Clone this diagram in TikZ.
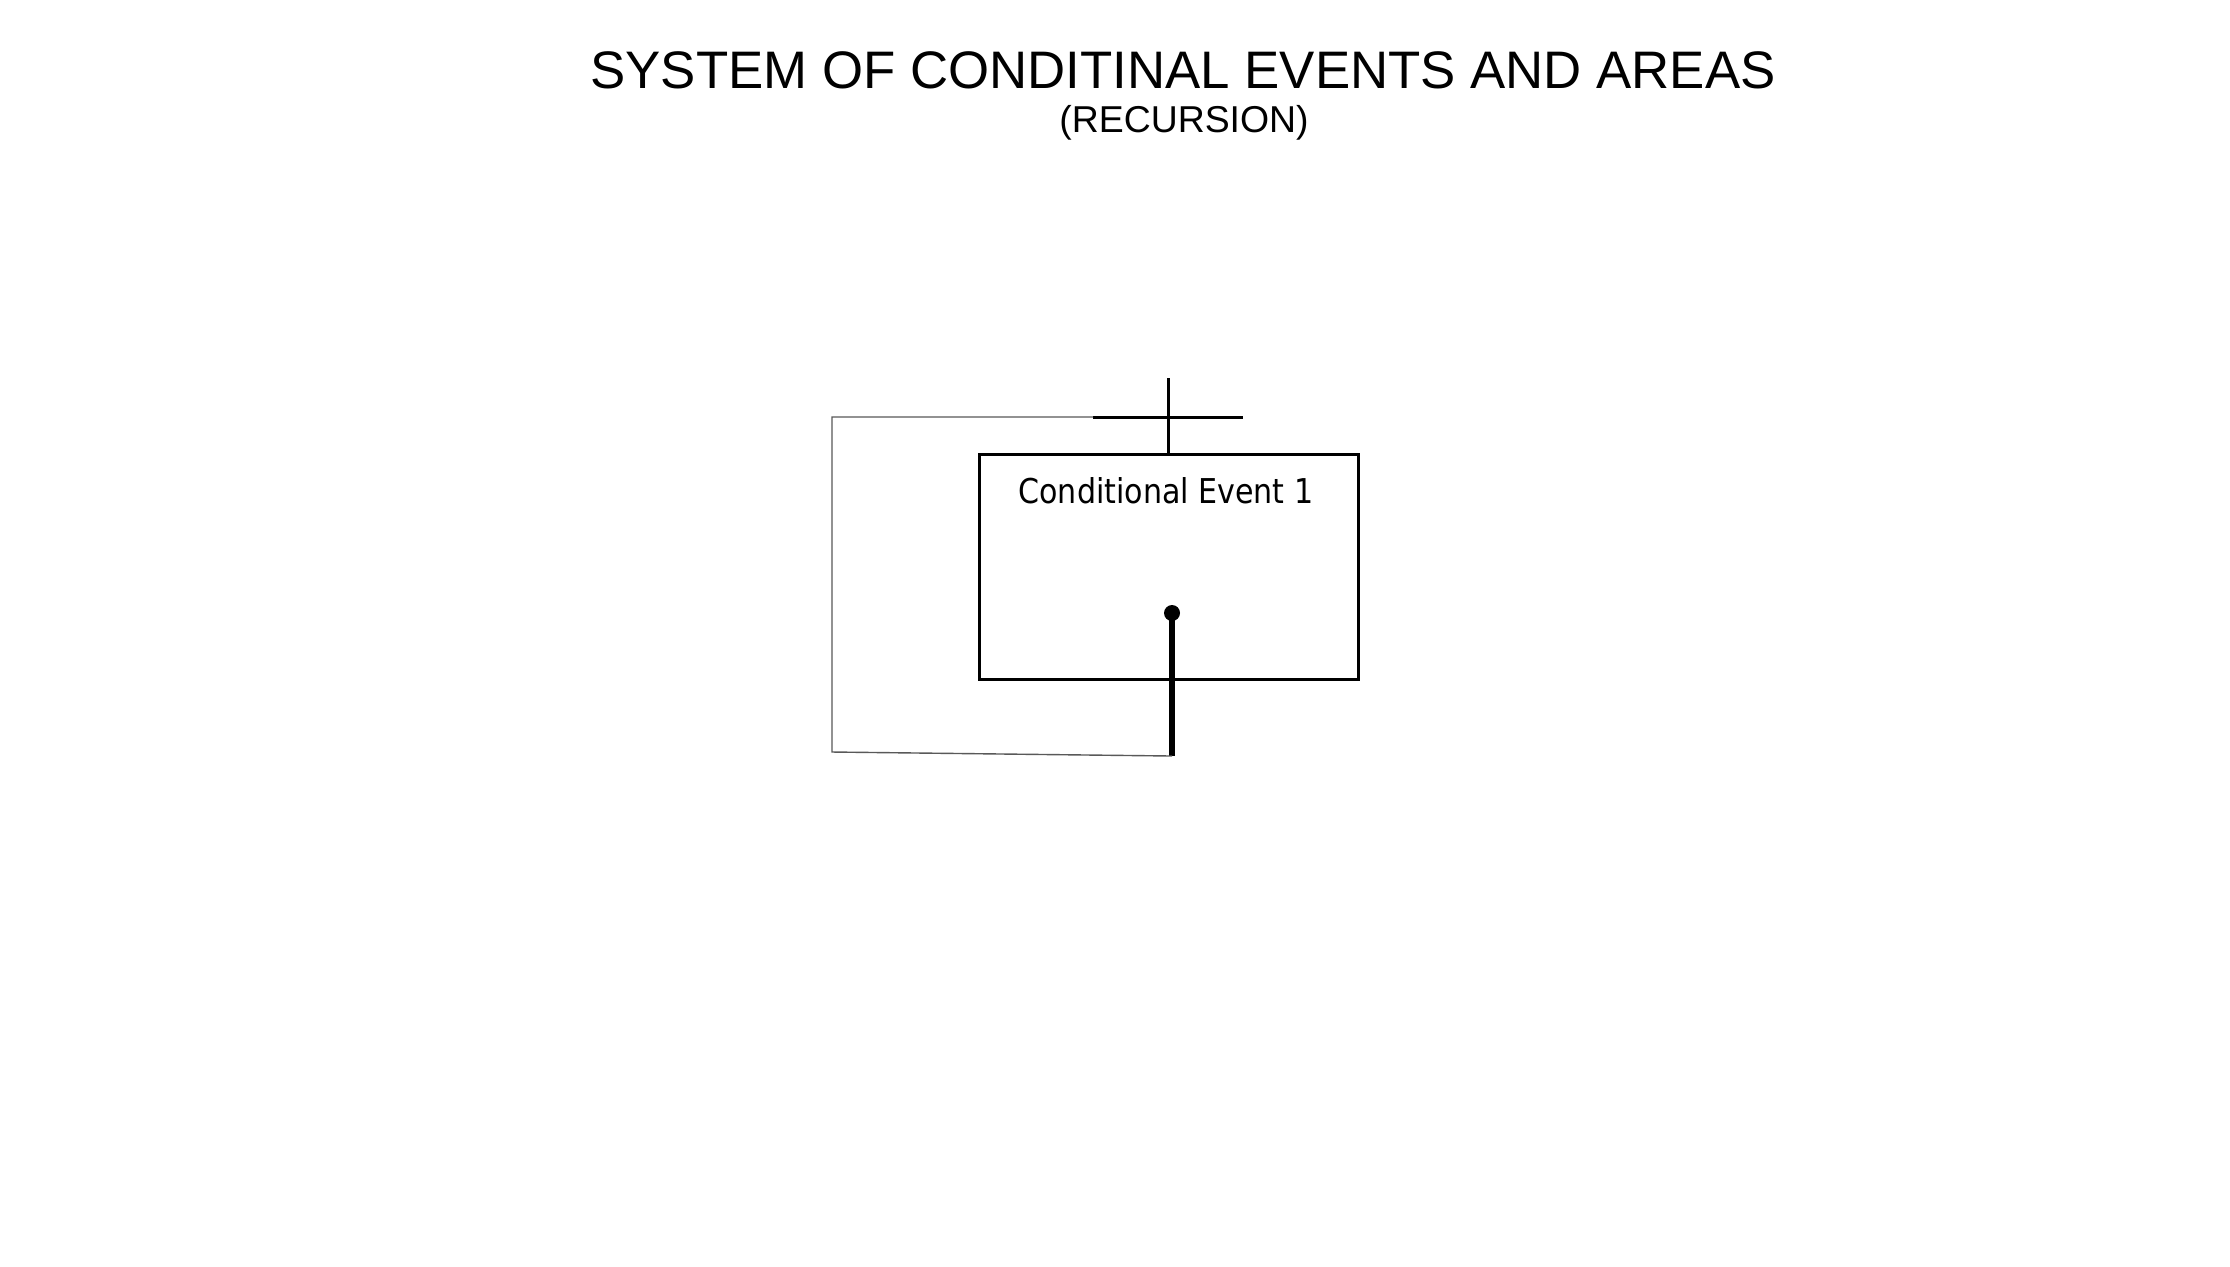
\documentclass[tikz,border=0pt]{standalone}
\usepackage{fontspec}
\setmainfont{Liberation Sans}
\newfontfamily\boxfont[FakeStretch=0.88]{DejaVu Sans}
\begin{document}
\begin{tikzpicture}[x=0.5pt,y=-0.5pt,
  eventbox/.style={draw=black, line width=1.5pt, minimum width=189.5pt, minimum height=112.5pt, inner sep=0pt},
  thinlink/.style={draw=black!65, line width=0.7pt},
  crossbar/.style={draw=black, line width=1.5pt},
  outlink/.style={draw=black, line width=3pt},
  titletext/.style={anchor=base, inner sep=0pt, font=\fontsize{26.4pt}{30pt}\selectfont},
  subtext/.style={anchor=base, inner sep=0pt, font=\fontsize{18.7pt}{22pt}\selectfont},
  boxtext/.style={anchor=base, inner sep=0pt, font=\boxfont\fontsize{17.1pt}{20pt}\selectfont}]
  \useasboundingbox[fill=white] (0,0) rectangle (2230,1266);

  % headings
  \node[titletext] (title) at (1183,88) {SYSTEM OF CONDITINAL EVENTS AND AREAS};
  \node[subtext] (subtitle) at (1184,132) {(RECURSION)};

  % the event box and its caption
  \node[eventbox] (ev1) at (1168.5,566.5) {};
  \node[boxtext] (ev1label) at (1166,503) {Conditional Event 1};

  % entry cross above the box
  \coordinate (jn) at (1168.5,417);
  \coordinate (crtop) at (1168.5,378);
  \coordinate (crleft) at (1093,417);
  \coordinate (crright) at (1243,417);
  \draw[crossbar] (crleft) -- (crright);
  \draw[crossbar] (crtop) -- (ev1.north);

  % exit point inside the box
  \node[circle, fill=black, inner sep=0pt, minimum size=8pt] (exitdot) at (1172,613) {};
  \coordinate (exitend) at (1172,756);
  \draw[outlink] (exitdot.center) -- (exitend);

  % recursion loop back to the entry
  \coordinate (loopbl) at (832,752);
  \coordinate (looptl) at (832,417);
  \draw[thinlink] (exitend) -- (loopbl) -- (looptl) -- (crleft);
\end{tikzpicture}
\end{document}
